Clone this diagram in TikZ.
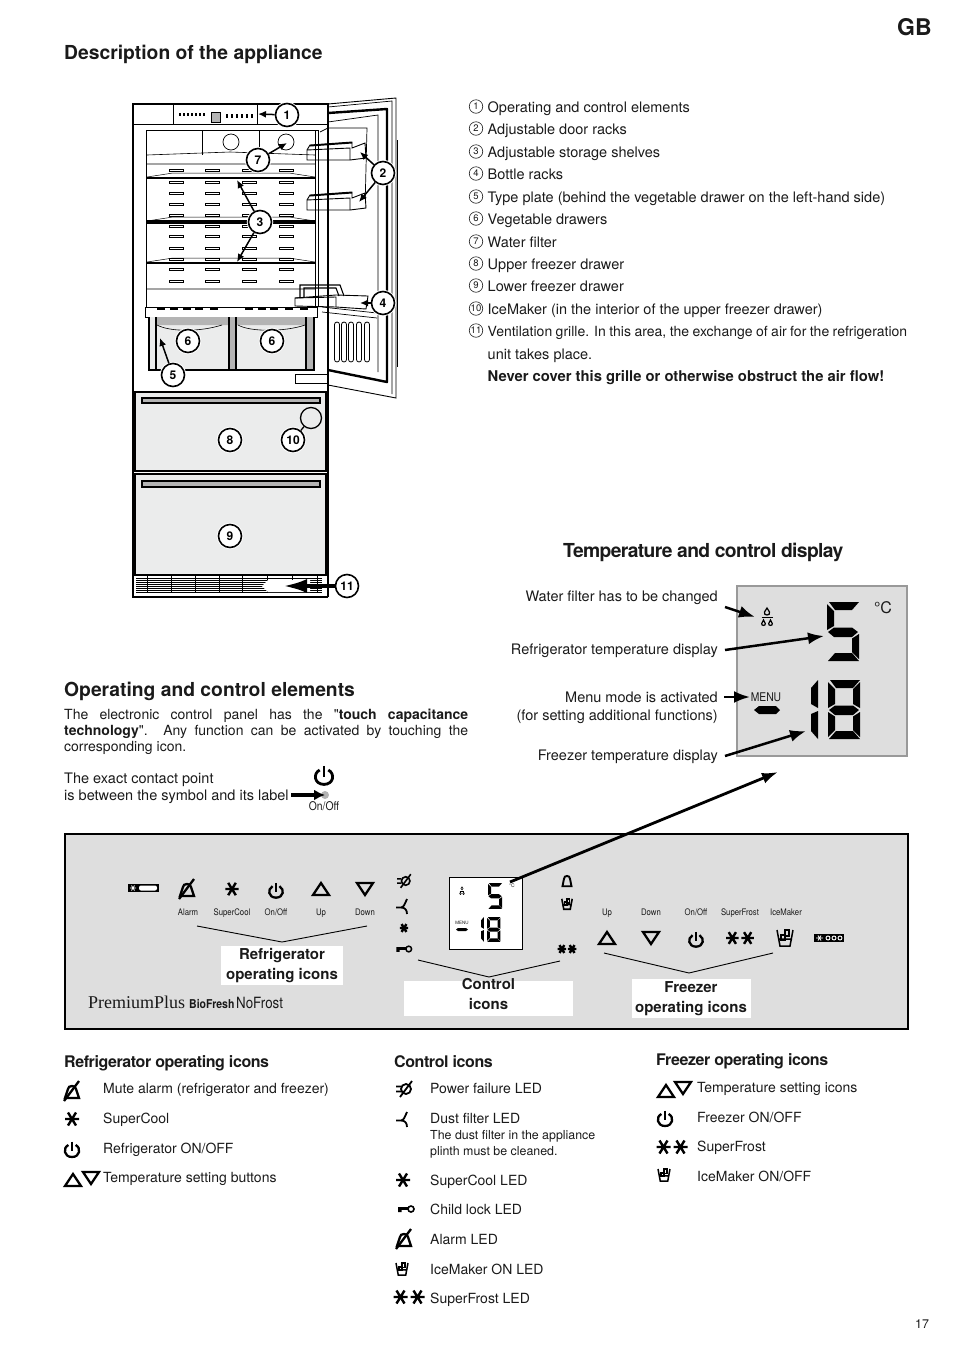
\documentclass[tikz,border=0pt]{standalone}
\usepackage{fontspec}
\setmainfont{TeX Gyre Heros}[Ligatures=TeXOff]
\newfontfamily\brandfont{Liberation Serif}
\newfontfamily\narrowfont[FakeStretch=.86]{TeX Gyre Heros}
\usetikzlibrary{arrows.meta}
\definecolor{ink}{HTML}{1a1a1a}
\definecolor{panelcol}{HTML}{dedede}
\definecolor{drawercol}{HTML}{ebecec}
\definecolor{handlecol}{HTML}{b4b4b4}
\definecolor{framecol}{HTML}{999999}

% seven-segment pieces, cell 32 x 59
\newcommand{\segtop}{\fill (2,0) -- (32,0) -- (25,8) -- (8,8) -- cycle;}
\newcommand{\segul}{\fill (0,2) -- (7,9) -- (7,24) -- (0,28) -- cycle;}
\newcommand{\segur}{\fill (32,2) -- (32,28) -- (25,24) -- (25,9) -- cycle;}
\newcommand{\segmid}{\fill (1,30) -- (7,25.5) -- (25,25.5) -- (31,30) -- (25,35) -- (7,35) -- cycle;}
\newcommand{\segll}{\fill (0,32) -- (7,36.5) -- (7,50) -- (0,57) -- cycle;}
\newcommand{\seglr}{\fill (32,32) -- (32,57) -- (25,50) -- (25,36.5) -- cycle;}
\newcommand{\segbot}{\fill (8,51) -- (25,51) -- (32,59) -- (1,59) -- cycle;}

\tikzset{
  basetext/.style={anchor=base west, inner sep=0pt, text=ink},
  bodytext/.style={basetext, font=\fontsize{14}{16}\selectfont},
  parttext/.style={basetext, font=\fontsize{14.5}{16}\selectfont},
  sidetext/.style={basetext, anchor=base east, align=right, font=\fontsize{14.5}{18}\selectfont},
  smalltext/.style={basetext, font=\fontsize{12.4}{14}\selectfont},
  headtext/.style={basetext, font=\bfseries\fontsize{19.3}{22}\selectfont},
  subhead/.style={basetext, font=\bfseries\addfontfeature{LetterSpace=-2.6}\fontsize{16}{18}\selectfont},
  panellabel/.style={anchor=base, inner sep=0pt, text=ink, font=\narrowfont\fontsize{9}{10}\selectfont},
  labelbox/.style={fill=white, inner sep=0pt},
  boxtext/.style={inner sep=0pt, align=center, text=ink, font=\bfseries\fontsize{15}{20}\selectfont},
  listmark/.style={circle, draw=ink, line width=.6pt, minimum size=13.5pt, inner sep=0pt, text=ink, font=\fontsize{9.5}{10}\selectfont},
  callout/.style={circle, draw=black, line width=1.6pt, fill=white, minimum size=23pt, inner sep=0pt,
    preaction={draw=white, line width=3.5pt}, font=\bfseries\fontsize{12}{13}\selectfont},
  partarrow/.style={-{Latex[length=8pt,width=7pt]}, line width=1.5pt},
  fatarrow/.style={-{Latex[length=16pt,width=12pt]}, line width=2.5pt},
  bracketline/.style={line width=.9pt},
  panelicon/.style={line width=2.3pt},
  % pics
  bellicon/.pic={\draw (-6,7) -- (-4,-3) .. controls (-4,-8) and (4,-8) .. (4,-3) -- (6,7) -- cycle;},
  mutebell/.pic={\draw (-7,7) -- (-4,-2) .. controls (-4,-6) and (4,-6) .. (4,-2) -- (7,7) -- cycle;
    \draw (-8,10) -- (7,-10);},
  staricon/.pic={\draw[line width=2.4pt] (-7,0) -- (7,0) (-4,-6.5) -- (4,6.5) (4,-6.5) -- (-4,6.5);},
  doublestar/.pic={\foreach \dx in {-8.5,8.5}
    \draw[line width=2.4pt,shift={(\dx,0)}] (-7,0) -- (7,0) (-4,-6.5) -- (4,6.5) (4,-6.5) -- (-4,6.5);},
  powericon/.pic={\draw (-3.6,-5) .. controls (-9.5,-2) and (-8,7) .. (0,7) .. controls (8,7) and (9.5,-2) .. (3.6,-5);
    \draw (0,-8.5) -- (0,1);},
  upicon/.pic={\draw[line join=miter] (0,-6) -- (8,6) -- (-8,6) -- cycle;},
  downicon/.pic={\draw[line join=miter] (0,6) -- (8,-6) -- (-8,-6) -- cycle;},
  iceicon/.pic={\draw (-8,-8) -- (-5,8) -- (5,8) -- (8,-8) (-7,1) -- (7,1);
    \draw (-4,-3) rectangle (0,2) (0,-8) rectangle (4,-2);},
  keyicon/.pic={\draw (5,0) circle (3pt);
    \fill (-8,-2) rectangle (2,.8) (-8,.8) rectangle (-4.5,3);},
  filtericon/.pic={\draw (-8,1.5) -- (-3,1.5) .. controls (0,1.5) and (1,-3) .. (3,-7) (-3,1.5) .. controls (1,1.5) and (3,4) .. (3,8);},
  plugicon/.pic={\draw (2,0) circle (5pt);
    \draw (-8,-2.5) -- (-3,-2.5) (-8,2.5) -- (-3,2.5) (-4,8) -- (8,-8);},
  digitfive/.pic={\segtop\segul\segmid\seglr\segbot},
  digiteight/.pic={\segtop\segul\segur\segmid\segll\seglr\segbot},
  digitone/.pic={\fill (0,8) -- (7,0) -- (7,28) -- (0,24) -- cycle;
    \fill (0,34) -- (7,31) -- (7,59) -- (0,51) -- cycle;},
  dropicon/.pic={\draw (0,-5) -- (2.5,-1) .. controls (4,3) and (-4,3) .. (-2.5,-1) -- cycle;
    \draw (-5.5,4.5) -- (5.5,4.5);
    \foreach \dx in {-3.5,3.5} \draw[shift={(\dx,10)}] (0,-3) -- (1.8,.5) .. controls (2.5,3) and (-2.5,3) .. (-1.8,.5) -- cycle;},
}

\begin{document}
\begin{tikzpicture}[x=1pt, y=-1pt, >=Latex, line cap=butt]
\useasboundingbox (0,0) rectangle (954,1350);

% headings
\node[basetext, font=\bfseries\fontsize{23}{25}\selectfont] (pagecode) at (897,35) {GB};
\node[headtext] (headappliance) at (64,59) {Description of the appliance};
\node[headtext, font=\bfseries\addfontfeature{LetterSpace=-3.4}\fontsize{19.3}{22}\selectfont] (headdisplay) at (563,557) {Temperature and control display};
\node[headtext] (headelements) at (64,696) {Operating and control elements};

% door
\draw[line width=.9pt] (328,104) -- (396,98) -- (396,398) -- (328,385);
\draw[line width=.7pt] (328,107) -- (392,101) -- (392,394);
\draw[line width=2.4pt, line join=round] (328,113) -- (387,109) -- (387,382) -- (328,370);
\draw[line width=1.1pt] (397.5,140) -- (397.5,367);
\draw[line width=.7pt] (328,122) -- (378,115) -- (378,372);
\draw[line width=.7pt] (320,132) -- (328,128) -- (367,128) -- (365,208) (322,307) -- (377,313) (322,312) -- (377,318);
\foreach \xx in {337,344,351,359,367}
  \draw[line width=.8pt, rounded corners=2.5pt] (\xx-2.5,322) rectangle (\xx+2.5,362);

% door racks
\foreach \yy in {0,50}{
  \filldraw[fill=white, line width=.9pt, shift={(0,\yy)}] (310,145) -- (352,142) -- (352,148) -- (365,143) -- (366,158) -- (350,160) -- (307,160) -- (307,150) -- cycle;
  \draw[line width=.9pt, shift={(0,\yy)}] (307,150) -- (350,148) -- (350,160);
  \fill[shift={(0,\yy)}] (310,145) -- (352,142) -- (352,143.5) -- (310,146.5) -- cycle;
}
\filldraw[fill=white, line width=.9pt] (295,298) -- (336,295) -- (368,296) -- (366,309) -- (336,307) -- (295,306) -- cycle;
\draw[line width=.9pt] (295,298) -- (336,297) -- (336,307);
\draw[line width=1.1pt] (300,297) -- (300,285) -- (340,285) -- (344,296) (304,297) -- (304,288) -- (336,288) -- (339,296);

% cabinet
\draw[line width=1.6pt] (328,597) -- (133,597) -- (133,104) -- (328,104) -- (328,597);
\draw[line width=.9pt] (133,124) -- (328,124) (173,104) -- (173,124) (257,104) -- (257,124);
\foreach \xx in {179,183,...,204} \fill (\xx,113) rectangle (\xx+2,116);
\foreach \xx in {226,231,...,252} \fill (\xx,114) rectangle (\xx+2,118);
\filldraw[fill=handlecol, line width=.7pt] (211,112) rectangle (220,122);
\draw[line width=.8pt] (146,130) -- (146,307) (315,130) -- (315,307) (318,130) -- (318,307) (146,130) -- (318,130);
\draw[line width=.6pt] (202,130) -- (202,155) (259,130) -- (259,155);
\draw[line width=.7pt] (231,142) circle (8pt) (286,142) circle (8pt);
\draw[line width=.6pt] (147,155) -- (230,152) -- (315,155) (147,164) -- (315,164) (147,289) -- (315,289);

% shelves and back wall slots
\foreach \yy/\ww in {178/1.8,222/3.2,263/1.8}{
  \draw[line width=\ww pt] (147,\yy) -- (315,\yy);
  \draw[line width=.5pt] (147,\yy-1) -- (173,\yy-5) -- (289,\yy-5) -- (315,\yy-1);
}
\foreach \xx in {176,212,249,286}
  \foreach \yy in {170,182,193,204,215,226,236,248,259,269,281}
    \filldraw[fill=white, line width=.6pt] (\xx-7,\yy-1.2) rectangle (\xx+7,\yy+1.2);

% vegetable drawers
\filldraw[fill=white, line width=.8pt] (145,307) rectangle (317,317);
\foreach \xx in {157,170,183,195,210,245,258,270,285,300} \draw[line width=1.1pt] (\xx,309) -- (\xx+8,309);
\fill[drawercol] (150,317) rectangle (312,369);
\fill[handlecol] (156,317) rectangle (229,325) (236,317) rectangle (306,325);
\fill[handlecol] (229,317) rectangle (236,369) (306,317) rectangle (314,369);
\draw[line width=2pt] (149,317) -- (149,370) -- (314,370) -- (314,317);
\draw[line width=1.1pt] (156,317) -- (156,369) (229,317) -- (229,369) (236,317) -- (236,369) (306,317) -- (306,369);
\draw[line width=.6pt] (157,325) .. controls (170,332) and (200,332) .. (222,325) (238,325) .. controls (250,332) and (285,332) .. (305,325);
\draw[line width=.8pt] (295,374) rectangle (327,383);

% freezer drawers
\filldraw[fill=drawercol, line width=1.5pt] (135,392) rectangle (326,471);
\filldraw[fill=drawercol, line width=1.5pt] (135,474) rectangle (326,575);
\filldraw[fill=handlecol, line width=1.1pt] (142,398) rectangle (320,403);
\filldraw[fill=handlecol, line width=1.1pt] (142,481) rectangle (320,487);

% grille
\foreach \yy in {578,580,582,584,586,588,590,592} \draw[line width=.7pt] (136,\yy) -- (322,\yy);
\foreach \xx in {147,171,195,219,242,267,292,317} \draw[line width=.6pt] (\xx,575) -- (\xx,592);
\fill[white] (268,580) -- (310,580) -- (310,592) -- (268,592) -- (262,586) -- cycle;

% part numbers with their arrows
\node[callout] (part1) at (287,115) {1};
\node[callout] (part2) at (383,173) {2};
\node[callout] (part3) at (260,222) {3};
\node[callout] (part4) at (383,303) {4};
\node[callout] (part5) at (173,375) {5};
\node[callout] (part6a) at (188,341) {6};
\node[callout] (part6b) at (272,341) {6};
\node[callout] (part7) at (258,160) {7};
\node[callout] (part8) at (230,440) {8};
\node[callout] (part9) at (230,536) {9};
\node[callout] (part10) at (293,440) {10};
\node[callout] (part11) at (347,586) {11};
\node[circle, draw=black, line width=1.3pt, minimum size=21pt, inner sep=0pt] (icemakermark) at (311,418) {};
\draw[line width=1.3pt] (part10) -- (icemakermark);
\coordinate (tip1) at (258,114);
\coordinate (tip2a) at (360,152);
\coordinate (tip2b) at (359,202);
\coordinate (tip3a) at (237,180);
\coordinate (tip3b) at (237,262);
\coordinate (tip4) at (360,303);
\coordinate (tip5) at (160,338);
\coordinate (tip7) at (287,143);
\coordinate (tip11) at (283,586);
\draw[partarrow] (part1) -- (tip1);
\draw[partarrow] (part2) -- (tip2a);
\draw[partarrow] (part2) -- (tip2b);
\draw[partarrow] (part3) -- (tip3a);
\draw[partarrow] (part3) -- (tip3b);
\draw[partarrow] (part4) -- (tip4);
\draw[partarrow] (part5) -- (tip5);
\draw[partarrow] (part7) -- (tip7);
\draw[-{Latex[length=24pt,width=14pt]}, line width=4pt] (part11) -- (tip11);

% list of parts
\foreach \n/\yy/\lab in {
  1/112/Operating and control elements,
  2/134/Adjustable door racks,
  3/157/Adjustable storage shelves,
  4/179/Bottle racks,
  5/202/Type plate (behind the vegetable drawer on the left-hand side),
  6/224/Vegetable drawers,
  7/247/Water filter,
  8/269/Upper freezer drawer,
  9/291/Lower freezer drawer,
  10/314/IceMaker (in the interior of the upper freezer drawer)}{
  \node[listmark] (mark\n) at (476,\yy-5.5) {\n};
  \node[parttext] (item\n) at (487.5,\yy) {\lab};
}
\node[listmark] (mark11) at (476,330.5) {11};
\node[parttext, font=\fontsize{14}{16}\selectfont] (item11) at (487.5,336) {\makebox[419.5pt][s]{Ventilation grille. In this area, the exchange of air for the refrigeration}};
\node[parttext] (item11b) at (487.5,359) {unit takes place.};
\node[parttext, font=\bfseries\fontsize{14.8}{16}\selectfont] (item11c) at (487.5,381) {Never cover this grille or otherwise obstruct the air flow!};

% temperature display
\node[fill=panelcol, draw=framecol, line width=2pt, minimum width=170pt, minimum height=170pt, inner sep=0pt] (lcd) at (822,671) {};
\pic[line width=1.2pt] at (767,613) {dropicon};
\pic at (827,602) {digitfive};
\pic at (828,680) {digiteight};
\pic at (811,680) {digitone};
\node[inner sep=0pt, text=ink, font=\fontsize{16}{18}\selectfont] (lcdunit) at (883,608) {°C};
\node[inner sep=0pt, text=ink, font=\narrowfont\fontsize{12}{14}\selectfont] (lcdmenu) at (766,697) {MENU};
\fill (754,710) -- (759,706) -- (776,706) -- (780,710) -- (776,714) -- (759,714) -- cycle;

\node[sidetext] (labelfilter) at (718,601) {Water filter has to be changed};
\node[sidetext] (labelfridge) at (718,654) {Refrigerator temperature display};
\node[sidetext] (labelmenu) at (718,720) {Menu mode is activated\\(for setting additional functions)};
\node[sidetext] (labelfreezer) at (718,760) {Freezer temperature display};
\coordinate (tailfilter) at (725,607);
\coordinate (tipfilter) at (755,617);
\coordinate (tailfridge) at (725,650);
\coordinate (tipfridge) at (824,636);
\coordinate (tailmenu) at (724,697);
\coordinate (tipmenu) at (750,697);
\coordinate (tailfreezer) at (725,756);
\coordinate (tipfreezer) at (806,731);
\draw[fatarrow] (tailfilter) -- (tipfilter);
\draw[fatarrow] (tailfridge) -- (tipfridge);
\draw[fatarrow] (tailmenu) -- (tipmenu);
\draw[fatarrow] (tailfreezer) -- (tipfreezer);

% operating text
\node[basetext, anchor=north west, align=left, font=\fontsize{14}{16}\selectfont] (introtext) at (64,709) {\makebox[404pt][s]{The electronic control panel has the "\textbf{touch capacitance}}\\
  \makebox[404pt][s]{\textbf{technology}". Any function can be activated by touching the}\\
  corresponding icon.};
\node[basetext, anchor=north west, align=left, font=\fontsize{14.5}{17}\selectfont] (contacttext) at (64,773) {The exact contact point\\is between the symbol and its label};
\pic[line width=2.8pt, scale=1.2] at (324,776) {powericon};
\node[panellabel, font=\narrowfont\fontsize{12}{13}\selectfont] (onofflabel) at (324,810) {On/Off};
\node[circle, fill=handlecol, minimum size=8pt, inner sep=0pt] (contactdot) at (325,795) {};
\coordinate (tailcontact) at (291,795);
\draw[-{Latex[length=11pt,width=11pt]}, line width=3.6pt] (tailcontact) -- (contactdot.center);

% control panel
\node[fill=panelcol, draw=black, line width=1.8pt, minimum width=843pt, minimum height=195pt, inner sep=0pt] (panel) at (486.5,931.5) {};

% refrigerator icons
\fill (128,884) rectangle (159,892);
\fill[white, rounded corners=2pt] (139,885.5) rectangle (157,890.5);
\draw[white, line width=.8pt] (130,888) -- (136,888) (131.5,885.5) -- (134.5,890.5) (134.5,885.5) -- (131.5,890.5);
\pic[panelicon] at (187,889) {mutebell};
\pic[scale=.95] at (232,889) {staricon};
\pic[panelicon, scale=.95] at (276,891) {powericon};
\pic[panelicon] at (321,889) {upicon};
\pic[panelicon] at (365,889) {downicon};
\foreach \n/\xx/\lab in {alarm/188/Alarm,supercool/232/SuperCool,onoff/276/{On/Off},up/321/Up,down/365/Down}
  \node[panellabel] (ref\n) at (\xx,915) {\lab};

% control icons
\pic[line width=1.6pt, scale=.85] at (404,881) {plugicon};
\pic[line width=1.8pt] at (404,906) {filtericon};
\pic[scale=.6] at (404,928) {staricon};
\pic[line width=1.5pt, scale=.95] at (404,949) {keyicon};

% small display
\node[fill=white, draw=black, line width=1pt, minimum width=73pt, minimum height=72pt, inner sep=0pt] (minilcd) at (485.5,913) {};
\pic[scale=.44] at (488,883) {digitfive};
\pic[scale=.42] at (487,917) {digiteight};
\pic[scale=.42] at (481,917) {digitone};
\pic[line width=.5pt, scale=.45] at (462,889) {dropicon};
\node[inner sep=0pt, text=ink, font=\fontsize{5}{6}\selectfont] (miniunit) at (512,886) {°C};
\node[inner sep=0pt, text=ink, font=\fontsize{4.5}{5}\selectfont] (minimenu) at (462,923) {MENU};
\fill (458,928) -- (466,928) -- (468,929.5) -- (466,931) -- (458,931) -- (456,929.5) -- cycle;
\pic[line width=1.9pt, scale=.75] at (567,881) {bellicon};
\pic[line width=1.6pt, scale=.65] at (567,904) {iceicon};
\pic[scale=.6] at (567,949) {doublestar};

% freezer icons
\foreach \n/\xx/\lab in {up/607/Up,down/651/Down,onoff/696/{On/Off},superfrost/740/SuperFrost,icemaker/786/IceMaker}
  \node[panellabel] (frz\n) at (\xx,915) {\lab};
\pic[panelicon] at (607,938) {upicon};
\pic[panelicon] at (651,938) {downicon};
\pic[panelicon, scale=.95] at (696,940) {powericon};
\pic[scale=.9] at (740,938) {doublestar};
\pic[line width=1.5pt] at (785,938) {iceicon};
\fill (814,934) rectangle (844,942);
\draw[white, line width=.8pt] (816,938) -- (823,938) (818,935.5) -- (821,940.5) (821,935.5) -- (818,940.5);
\foreach \xx in {828,834,840} \draw[white, line width=.9pt] (\xx,938) circle (2pt);

% brand line
\node[basetext, font=\brandfont\fontsize{18}{20}\selectfont] (brandname) at (88,1008) {PremiumPlus};
\node[basetext, font=\bfseries\narrowfont\fontsize{12.2}{16}\selectfont] (brandbio) at (189,1008) {BioFresh};
\node[basetext, font=\narrowfont\fontsize{15.5}{16}\selectfont] (brandno) at (236,1008) {NoFrost};

% group labels on the panel
\coordinate (refbl) at (197,926);
\coordinate (refbm) at (282,942);
\coordinate (refbr) at (367,926);
\draw[bracketline] (refbl) -- (refbm) -- (refbr);
\coordinate (ctlbl) at (418,960);
\coordinate (ctlbm) at (489,977);
\coordinate (ctlbr) at (560,961);
\draw[bracketline] (ctlbl) -- (ctlbm) -- (ctlbr);
\coordinate (frzbl) at (604,953);
\coordinate (frzbm) at (689,973);
\coordinate (frzbr) at (773,953);
\draw[bracketline] (frzbl) -- (frzbm) -- (frzbr);
\node[labelbox, minimum width=122pt, minimum height=39pt] (refbox) at (282,965.5) {};
\node[labelbox, minimum width=169pt, minimum height=35pt] (ctlbox) at (488.5,998.5) {};
\node[labelbox, minimum width=119pt, minimum height=39pt] (frzbox) at (691.5,998.5) {};
\node[boxtext] (reftext) at (282,966) {Refrigerator\\operating icons};
\node[boxtext] (ctltext) at (488.5,994) {Control\\icons};
\node[boxtext] (frztext) at (691,999) {Freezer\\operating icons};

% long arrow from the small display to the large one
\coordinate (tailmini) at (510,882);
\coordinate (tipmini) at (778,772);
\draw[-{Latex[length=16pt,width=11pt]}, line width=2.8pt] (tailmini) -- (tipmini);

% refrigerator operating icons
\node[subhead] (listrefhead) at (64,1067) {Refrigerator operating icons};
\foreach \n/\yy/\lab in {a/1093/Mute alarm (refrigerator and freezer),b/1123/SuperCool,c/1153/{Refrigerator ON/OFF},d/1182/Temperature setting buttons}
  \node[bodytext] (listref\n) at (103,\yy) {\lab};
\pic[panelicon] at (72,1091) {mutebell};
\pic at (72,1119) {staricon};
\pic[panelicon] at (72,1150) {powericon};
\pic[panelicon] at (73,1180) {upicon};
\pic[panelicon] at (91,1178) {downicon};

% control icons list
\node[subhead] (listctlhead) at (394,1067) {Control icons};
\foreach \n/\yy/\lab in {a/1093/Power failure LED,b/1123/Dust filter LED,c/1185/SuperCool LED,d/1214/Child lock LED,e/1244/Alarm LED,f/1274/IceMaker ON LED,g/1303/SuperFrost LED}
  \node[bodytext] (listctl\n) at (430,\yy) {\lab};
\node[smalltext] (listctlnotea) at (430,1139) {The dust filter in the appliance};
\node[smalltext] (listctlnoteb) at (430,1155) {plinth must be cleaned.};
\pic[line width=1.8pt] at (404,1089) {plugicon};
\pic[line width=1.8pt] at (404,1119) {filtericon};
\pic at (403,1180) {staricon};
\pic[line width=1.6pt] at (406,1209) {keyicon};
\pic[panelicon] at (404,1239) {mutebell};
\pic[line width=1.5pt, scale=.75] at (402,1269) {iceicon};
\pic at (409,1297) {doublestar};

% freezer operating icons list
\node[subhead] (listfrzhead) at (656,1065) {Freezer operating icons};
\foreach \n/\yy/\lab in {a/1092/Temperature setting icons,b/1122/{Freezer ON/OFF},c/1151/SuperFrost,d/1181/{IceMaker ON/OFF}}
  \node[bodytext] (listfrz\n) at (697,\yy) {\lab};
\pic[panelicon] at (666,1091) {upicon};
\pic[panelicon] at (683,1088) {downicon};
\pic[panelicon] at (665,1119) {powericon};
\pic at (672,1147) {doublestar};
\pic[line width=1.5pt, scale=.75] at (664,1175) {iceicon};

% page number
\node[basetext, font=\fontsize{12.5}{14}\selectfont] (pagenumber) at (915,1328) {17};
\end{tikzpicture}
\end{document}
